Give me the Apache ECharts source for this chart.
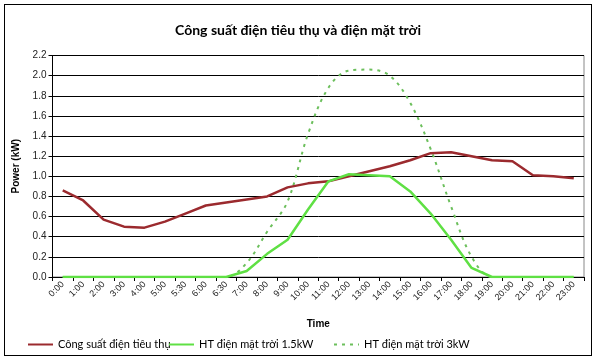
<!DOCTYPE html>
<html><head><meta charset="utf-8">
<script src="https://cdn.jsdelivr.net/npm/echarts@6/dist/echarts.min.js"></script>
<style>html,body{margin:0;padding:0;background:#fff}#c{width:598px;height:362px}
#frame{position:absolute;left:4px;top:4px;width:588px;height:352px;border:1px solid #000;box-sizing:border-box;pointer-events:none}</style>
</head><body><div id="c"></div><div id="frame"></div>
<script>
const categories = ["0:00","1:00","2:00","3:00","4:00","5:00","5:30","6:00","6:30","7:00","8:00","9:00","10:00","11:00","12:00","13:00","14:00","15:00","16:00","17:00","18:00","19:00","20:00","21:00","22:00","23:00"];
const consumption = [0.86,0.76,0.57,0.50,0.49,0.55,0.63,0.71,0.74,0.77,0.80,0.89,0.93,0.95,1.00,1.05,1.10,1.16,1.23,1.24,1.20,1.16,1.15,1.01,1.00,0.98];
const solar15 = [0,0,0,0,0,0,0,0,0,0.06,0.23,0.37,0.67,0.95,1.02,1.01,1.00,0.85,0.63,0.37,0.09,0,0,0,0,0];
const solar3 = [0,0,0,0,0,0,0,0,0,0.14,0.45,0.75,1.42,1.88,2.05,2.06,2.00,1.73,1.27,0.70,0.20,0,0,0,0,0];
const yTicks = [0,0.2,0.4,0.6,0.8,1.0,1.2,1.4,1.6,1.8,2.0,2.2];
const names = ["Công suất điện tiêu thụ","HT điện mặt trời 1.5kW","HT điện mặt trời 3kW"];

const chart = echarts.init(document.getElementById('c'));
const legendText = {fontFamily:'Lato', fontSize:11, color:'#000'};
const lg = (i, left) => ({data:[names[i]], left:left, top:339, itemWidth:25, itemHeight:10, itemGap:4,
  textStyle:legendText, padding:0, itemStyle:{opacity:0}});
chart.setOption({
  animation:false,
  title:{text:'Công suất điện tiêu thụ và điện mặt trời', left:293, textAlign:'center', top:18,
    textStyle:{fontFamily:'Lato', fontWeight:'bold', fontSize:14, color:'#000'}},
  legend:[lg(0,27), lg(1,168), lg(2,333)],
  grid:{left:52.5, right:14, top:55.5, bottom:85, show:true, borderColor:'#888', borderWidth:1},
  xAxis:{type:'category', data:categories, boundaryGap:true,
    name:'Time', nameLocation:'middle', nameGap:42,
    nameTextStyle:{fontFamily:'Liberation Sans', fontSize:10, fontWeight:'bold', color:'#000'},
    axisLine:{lineStyle:{color:'#000'}},
    axisTick:{show:true, length:4, lineStyle:{color:'#000'}},
    axisLabel:{interval:0, rotate:45, fontFamily:'Liberation Sans', fontSize:9, color:'#222', margin:6},
    splitLine:{show:false}},
  yAxis:{type:'value', min:0, max:2.2, interval:0.2,
    name:'Power (kW)', nameLocation:'middle', nameGap:25,
    nameTextStyle:{fontFamily:'Liberation Sans', fontSize:10, fontWeight:'bold', color:'#000'},
    axisLine:{show:true, lineStyle:{color:'#000'}},
    axisTick:{show:true, length:4, lineStyle:{color:'#000'}},
    axisLabel:{fontFamily:'Liberation Sans', fontSize:10, color:'#222', margin:6,
      formatter:v=>{const t=yTicks.find(x=>Math.abs(x-v)<1e-6);return (t!==undefined?t:v).toFixed(1);}},
    splitLine:{show:true, lineStyle:{color:'#000', width:1}}},
  series:[
    {name:names[0], type:'line', data:consumption, symbol:'none', z:3,
      lineStyle:{color:'#9b2a2e', width:2.5}, itemStyle:{color:'#9b2a2e'}},
    {name:names[1], type:'line', data:solar15, symbol:'none', z:4,
      lineStyle:{color:'#5fe044', width:2.5}, itemStyle:{color:'#5fe044'}},
    {name:names[2], type:'line', data:solar3, symbol:'none', smooth:0.35, z:2,
      lineStyle:{color:'#6cbf5c', width:2, type:[3,5]}, itemStyle:{color:'#6cbf5c'}}
  ]
});
</script></body></html>
